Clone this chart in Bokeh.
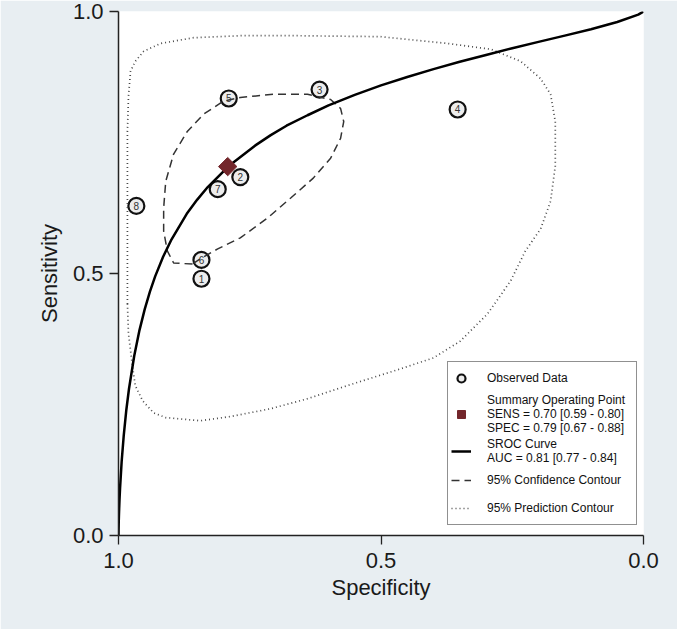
from bokeh.plotting import figure
from bokeh.models import Range1d, FixedTicker, NumeralTickFormatter, Legend, LegendItem, ColumnDataSource
from bokeh.embed import file_html
from bokeh.resources import INLINE
from bokeh.core.properties import value
import math

# ---- data ----
study_ids = ["1", "2", "3", "4", "5", "6", "7", "8"]
study_spec = [0.842, 0.768, 0.617, 0.354, 0.790, 0.842, 0.811, 0.966]
study_sens = [0.490, 0.684, 0.851, 0.813, 0.834, 0.526, 0.661, 0.629]

summary_spec = [0.792]
summary_sens = [0.704]

sroc_spec = [1.0, 0.9999, 0.9995, 0.999, 0.998, 0.997, 0.994, 0.99, 0.985, 0.98, 0.97, 0.96,
             0.95, 0.94, 0.93, 0.915, 0.90, 0.87, 0.85, 0.83, 0.79, 0.74, 0.71, 0.68, 0.64,
             0.60, 0.55, 0.50, 0.45, 0.40, 0.35, 0.30, 0.25, 0.20, 0.15, 0.10, 0.05, 0.01, 0.0]
sroc_sens = [0.0, 0.009, 0.0275, 0.044, 0.070, 0.091, 0.141, 0.191, 0.2405, 0.280, 0.343, 0.392,
             0.432, 0.466, 0.495, 0.532, 0.563, 0.614, 0.641, 0.665, 0.705, 0.744, 0.764, 0.782, 0.802,
             0.821, 0.841, 0.859, 0.875, 0.890, 0.904, 0.917, 0.930, 0.942, 0.954, 0.966, 0.980, 0.994, 1.0]

conf_spec = [0.859, 0.895, 0.907, 0.914, 0.914, 0.910, 0.895, 0.869, 0.838, 0.800, 0.768, 0.705,
             0.640, 0.596, 0.577, 0.571, 0.577, 0.596, 0.629, 0.672, 0.716, 0.768, 0.811, 0.844, 0.859]
conf_sens = [0.518, 0.520, 0.543, 0.581, 0.625, 0.676, 0.728, 0.771, 0.804, 0.829, 0.836, 0.842,
             0.842, 0.832, 0.815, 0.790, 0.758, 0.720, 0.682, 0.644, 0.606, 0.568, 0.547, 0.528, 0.518]

pred_spec = [0.983, 0.983, 0.983, 0.981, 0.977, 0.968, 0.952, 0.920, 0.857, 0.762, 0.678, 0.501,
             0.373, 0.291, 0.234, 0.196, 0.177, 0.168, 0.168, 0.177, 0.196, 0.225, 0.253, 0.297,
             0.349, 0.400, 0.463, 0.558, 0.640, 0.710, 0.787, 0.844, 0.910, 0.933, 0.954, 0.968,
             0.973, 0.981, 0.983]
pred_sens = [0.442, 0.638, 0.771, 0.838, 0.886, 0.905, 0.924, 0.939, 0.950, 0.954, 0.954, 0.952,
             0.939, 0.928, 0.905, 0.872, 0.842, 0.790, 0.705, 0.638, 0.585, 0.543, 0.486, 0.423,
             0.371, 0.339, 0.318, 0.288, 0.261, 0.242, 0.227, 0.219, 0.225, 0.234, 0.257, 0.286,
             0.320, 0.385, 0.442]

axis_ticks = [0.0, 0.5, 1.0]

legend_labels = [
    "Observed Data",
    "Summary Operating Point\nSENS = 0.70 [0.59 - 0.80]\nSPEC = 0.79 [0.67 - 0.88]",
    "SROC Curve\nAUC = 0.81 [0.77 - 0.84]",
    "95% Confidence Contour",
    "95% Prediction Contour",
]

BG = "#e8eef2"
FONT = "Liberation Sans"

p = figure(width=677, height=629, x_range=Range1d(1.0, 0.0), y_range=Range1d(0.0, 1.0),
           output_backend="svg", toolbar_location=None,
           min_border_left=118, min_border_right=34, min_border_top=11, min_border_bottom=94,
           background_fill_color="white", border_fill_color=BG, outline_line_color=None)
p.grid.visible = False

for ax in (p.xaxis[0], p.yaxis[0]):
    ax.ticker = FixedTicker(ticks=axis_ticks)
    ax.formatter = NumeralTickFormatter(format="0.0")
    ax.minor_tick_line_color = None
    ax.major_tick_in = 0
    ax.major_tick_out = 9
    ax.axis_line_color = "#222222"
    ax.axis_line_width = 1.5
    ax.major_tick_line_color = "#222222"
    ax.major_tick_line_width = 1.3
    ax.major_label_text_font = FONT
    ax.major_label_text_font_size = "22px"
    ax.major_label_text_color = "#1a1a1a"
    ax.axis_label_text_font = FONT
    ax.axis_label_text_font_size = "22px"
    ax.axis_label_text_font_style = "normal"
    ax.axis_label_text_color = "#1a1a1a"

p.xaxis[0].axis_label = "Specificity"
p.yaxis[0].axis_label = "Sensitivity"
p.xaxis[0].major_label_standoff = 8
p.xaxis[0].axis_label_standoff = 4
p.yaxis[0].major_label_standoff = 6
p.yaxis[0].axis_label_standoff = 8
p.yaxis[0].major_label_orientation = "horizontal"

src = ColumnDataSource(dict(spec=study_spec, sens=study_sens, ids=study_ids))
r_obs = p.scatter("spec", "sens", source=src, marker="circle", size=16,
                  fill_color="#ededed", line_color="#111111", line_width=2.2)
p.text("spec", "sens", text="ids", source=src, text_align="center", text_baseline="middle",
       text_font=value(FONT), text_font_size="10px", text_color="#333333")

r_pred = p.line(pred_spec, pred_sens, line_color="#4a4a4a", line_width=1.7, line_dash="1 3")
r_conf = p.line(conf_spec, conf_sens, line_color="#333333", line_width=1.5, line_dash="8 5")
r_sroc = p.line(sroc_spec, sroc_sens, line_color="#000000", line_width=2.5)
r_sum = p.scatter(summary_spec, summary_sens, marker="square", size=13, angle=math.pi / 4,
                  fill_color="#73262b", line_color="#73262b")

legend = Legend(items=[
    LegendItem(label=legend_labels[0], renderers=[r_obs]),
    LegendItem(label=legend_labels[1], renderers=[r_sum]),
    LegendItem(label=legend_labels[2], renderers=[r_sroc]),
    LegendItem(label=legend_labels[3], renderers=[r_conf]),
    LegendItem(label=legend_labels[4], renderers=[r_pred]),
], location=(329, 10))
legend.label_text_font = FONT
legend.label_text_font_size = "12px"
legend.label_text_line_height = 0.95
legend.label_text_color = "#111111"
legend.label_height = 26
legend.label_width = 146
legend.glyph_width = 20
legend.glyph_height = 20
legend.spacing = 2
legend.padding = 3
legend.margin = 0
legend.label_standoff = 16
legend.border_line_color = "#222222"
legend.border_line_width = 1.3
legend.background_fill_color = "white"
legend.background_fill_alpha = 1.0
p.add_layout(legend)

open("out.html", "w").write(file_html(p, INLINE))
